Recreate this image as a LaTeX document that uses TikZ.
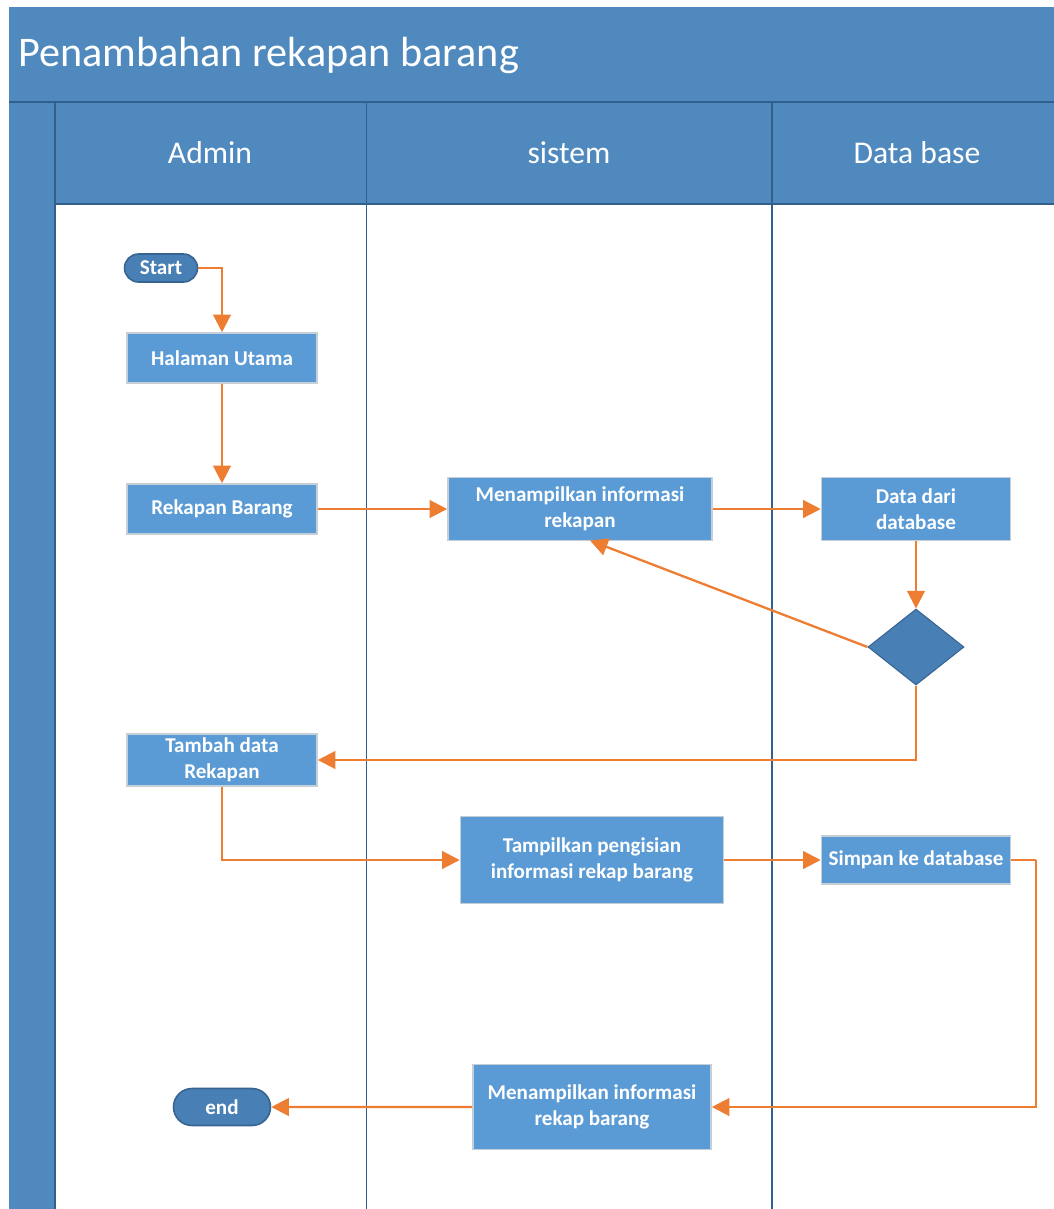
\documentclass[tikz,border=0pt]{standalone}
\usepackage{fontspec}
\setmainfont{Carlito}
\usetikzlibrary{arrows.meta,shapes.geometric,shapes.misc,positioning}
\definecolor{laneblue}{RGB}{79,137,189}
\definecolor{laneline}{RGB}{50,96,140}
\definecolor{boxblue}{RGB}{91,155,213}
\definecolor{termblue}{RGB}{72,128,182}
\definecolor{termedge}{RGB}{55,100,145}
\definecolor{flow}{RGB}{237,125,49}
\definecolor{boxedge}{RGB}{198,206,216}
\tikzstyle{box} = [draw=boxedge, line width=0.9pt, fill=boxblue, rectangle, text=white, align=center, font=\fontsize{12}{14.8}\selectfont\bfseries, minimum width=3.8cm, minimum height=1cm, inner sep=1pt]
\tikzstyle{term} = [draw=termedge, line width=0.9pt, fill=termblue, rounded rectangle, text=white, font=\fontsize{12}{14.8}\selectfont\bfseries, inner sep=0pt]
\tikzstyle{decision} = [draw=termedge, line width=0.6pt, fill=termblue, diamond, minimum width=1.92cm, minimum height=1.52cm, inner sep=0pt]
\tikzstyle{lanehead} = [text=white, font=\fontsize{18}{20}\selectfont]
\tikzstyle{flowline} = [draw=flow, line width=1.3pt]

\begin{document}
\begin{tikzpicture}[auto, node distance=2cm, >={Triangle[length=10pt,width=10pt]}]

\useasboundingbox (0,0) rectangle (21.08,-24.18);

% swimlane frame
\fill [laneblue] (0.18,-0.14) rectangle (21.08,-24.18);
\fill [white] (1.1,-4.08) rectangle (21.08,-24.18);
\draw [laneline, line width=1pt] (0.18,-2.04) -- (21.08,-2.04);
\draw [laneline, line width=0.8pt] (1.1,-2.04) -- (1.1,-24.18);
\draw [laneline, line width=0.8pt] (1.1,-4.08) -- (21.08,-4.08);
\draw [laneline, line width=0.9pt] (7.33,-2.04) -- (7.33,-24.18);
\draw [laneline, line width=0.9pt] (15.44,-2.04) -- (15.44,-24.18);

\node [text=white, anchor=west, font=\fontsize{24}{28}\selectfont] (title) at (0.24,-1.1) {Penambahan rekapan barang};
\node [lanehead] (admin) at (4.2,-3.06) {Admin};
\node [lanehead] (sistem) at (11.38,-3.06) {sistem};
\node [lanehead] (database) at (18.34,-3.06) {Data base};

% admin
\node [box] (halaman) at (4.44,-7.16) {Halaman Utama};
\node [term, above of=halaman, xshift=-1.22cm, node distance=1.8cm, minimum width=1.46cm, minimum height=0.56cm] (start) {Start};
\node [box, below of=halaman, node distance=3.02cm] (rekapan) {Rekapan Barang};
\node [box, below of=rekapan, node distance=5.02cm, minimum height=1.04cm] (tambah) {Tambah data\\Rekapan};
\node [term, below of=tambah, node distance=6.94cm, minimum width=1.94cm, minimum height=0.74cm] (end) {end};

% sistem and data base
\node [box, right of=rekapan, node distance=7.16cm, minimum width=5.28cm, minimum height=1.26cm] (menampil) {Menampilkan informasi\\rekapan};
\node [box, right of=menampil, node distance=6.72cm, minimum width=3.78cm, minimum height=1.26cm] (datadb) {Data dari\\database};
\node [decision, below of=datadb, node distance=2.76cm] (cek) {};
\node [box, below of=cek, node distance=4.26cm, minimum width=3.78cm, minimum height=0.96cm] (simpan) {Simpan ke database};
\node [box, left of=simpan, node distance=6.48cm, minimum width=5.26cm, minimum height=1.74cm] (tampil) {Tampilkan pengisian\\informasi rekap barang};
\node [box, below of=tampil, node distance=4.94cm, minimum width=4.76cm, minimum height=1.7cm] (hasil) {Menampilkan informasi\\rekap barang};

\node [coordinate, below of=menampil, xshift=0.2cm, node distance=0.63cm] (menampilS) {};
\node [coordinate, right of=simpan, node distance=2.4cm] (simpanR) {};

\draw [flowline, ->] (start.east) -| (halaman.north);
\draw [flowline, ->] (halaman) -- (rekapan);
\draw [flowline, ->] (rekapan) -- (menampil);
\draw [flowline, ->] (menampil) -- (datadb);
\draw [flowline, ->] (datadb) -- (cek);
\draw [flowline, ->] (cek.west) -- (menampilS);
\draw [flowline, ->] (cek.south) |- (tambah.east);
\draw [flowline, ->] (tambah.south) |- (tampil.west);
\draw [flowline, ->] (tampil) -- (simpan);
\draw [flowline] (simpan.east) -- (simpanR);
\draw [flowline, ->] (simpanR) |- (hasil.east);
\draw [flowline, ->] (hasil.west) -- (end.east);

\end{tikzpicture}
\end{document}
